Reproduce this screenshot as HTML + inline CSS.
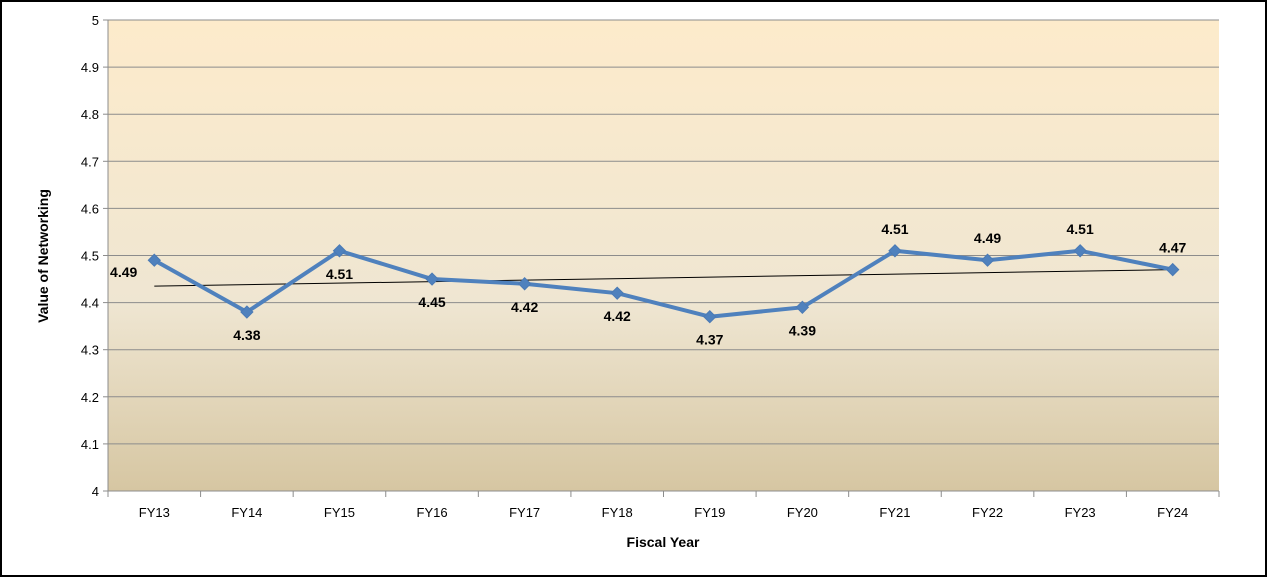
<!DOCTYPE html>
<html><head><meta charset="utf-8"><style>
html,body{margin:0;padding:0;background:#fff;}
svg{display:block;font-family:"Liberation Sans",Arial,sans-serif;}
</style></head><body>
<svg id="chart" width="1267" height="577" viewBox="0 0 1267 577">
<defs>
<linearGradient id="bg" x1="0" y1="0" x2="0" y2="1">
<stop offset="0" stop-color="#fdebcb"/>
<stop offset="0.6" stop-color="#efe6d2"/>
<stop offset="1" stop-color="#d6c6a2"/>
</linearGradient>
</defs>
<rect x="1" y="1" width="1265" height="575" fill="#fff" stroke="#000" stroke-width="2"/>
<rect x="108" y="20" width="1111" height="471" fill="url(#bg)"/>
<g id="grid"></g>
<g id="axes"></g>
<g id="marks"></g>
<text transform="translate(48,256) rotate(-90)" text-anchor="middle" font-size="14" font-weight="bold">Value of Networking</text>
<text x="663" y="547" text-anchor="middle" font-size="14" font-weight="bold">Fiscal Year</text>
</svg>
<script>
const categories=["FY13","FY14","FY15","FY16","FY17","FY18","FY19","FY20","FY21","FY22","FY23","FY24"];
const values=[4.49,4.38,4.51,4.45,4.44,4.42,4.37,4.39,4.51,4.49,4.51,4.47];
const labels=["4.49","4.38","4.51","4.45","4.42","4.42","4.37","4.39","4.51","4.49","4.51","4.47"];
const labelSide=["left","below","below","below","below","below","below","below","above","above","above","above"];
const yTicks=[4,4.1,4.2,4.3,4.4,4.5,4.6,4.7,4.8,4.9,5];
const yTickLabels=["4","4.1","4.2","4.3","4.4","4.5","4.6","4.7","4.8","4.9","5"];

const NS="http://www.w3.org/2000/svg";
const L=108,R=1219,T=20,B=491,yMin=4,yMax=5;
const band=(R-L)/categories.length;
function xS(i){return L+band*(i+0.5);}
function yS(v){return B-(v-yMin)/(yMax-yMin)*(B-T);}
function mk(tag,attrs,parent){const e=document.createElementNS(NS,tag);for(const k in attrs)e.setAttribute(k,attrs[k]);parent.appendChild(e);return e;}
const grid=document.getElementById('grid'),axes=document.getElementById('axes'),marks=document.getElementById('marks');

yTicks.forEach((t,i)=>{
  const y=yS(t);
  if(i>0){const g=mk('line',{x1:L,x2:R,y1:y,y2:y,stroke:'#8c8c8c','stroke-width':1},grid);
  
  }
  const tk=mk('line',{x1:L-5,x2:L,y1:y,y2:y,stroke:'#8c8c8c'},axes);
  
  
  const tx=mk('text',{x:L-9,y:y+5,'text-anchor':'end','font-size':13},axes);
  tx.textContent=yTickLabels[i];
  
  
});
const ya=mk('line',{x1:L,x2:L,y1:T,y2:B,stroke:'#8c8c8c'},axes);


const xa=mk('line',{x1:L,x2:R,y1:B,y2:B,stroke:'#8c8c8c'},axes);


for(let i=0;i<=categories.length;i++){
  const x=L+band*i;
  const tk=mk('line',{x1:x,x2:x,y1:B,y2:B+6,stroke:'#8c8c8c'},axes);
  
  
}
categories.forEach((c,i)=>{
  const t=mk('text',{x:xS(i),y:B+26,'text-anchor':'middle','font-size':13},axes);
  t.textContent=c;
  
  
});

// trendline (linear regression)
const n=values.length;let sx=0,sy=0,sxy=0,sxx=0;
values.forEach((v,i)=>{sx+=i;sy+=v;sxy+=i*v;sxx+=i*i;});
const slope=(n*sxy-sx*sy)/(n*sxx-sx*sx),icpt=(sy-slope*sx)/n;
const tl=mk('line',{x1:xS(0),y1:yS(icpt),x2:xS(n-1),y2:yS(icpt+slope*(n-1)),stroke:'#000','stroke-width':1},marks);



const pts=values.map((v,i)=>xS(i)+','+yS(v)).join(' ');
const pl=mk('polyline',{points:pts,fill:'none',stroke:'#4f81bd','stroke-width':4,'stroke-linejoin':'round'},marks);



values.forEach((v,i)=>{
  const x=xS(i),y=yS(v),s=6;
  const d=mk('polygon',{points:`${x},${y-s} ${x+s},${y} ${x},${y+s} ${x-s},${y}`,fill:'#4f81bd',stroke:'#4a7ab5'},marks);
  
  
  let lx=x,ly=y,anchor='middle';
  if(labelSide[i]==='left'){lx=x-17;ly=y+17;anchor='end';}
  else if(labelSide[i]==='below'){ly=y+28;}
  else {ly=y-17;}
  const t=mk('text',{x:lx,y:ly,'text-anchor':anchor,'font-size':14,'font-weight':'bold'},marks);
  t.textContent=labels[i];
  
  
});
</script>
</body></html>
